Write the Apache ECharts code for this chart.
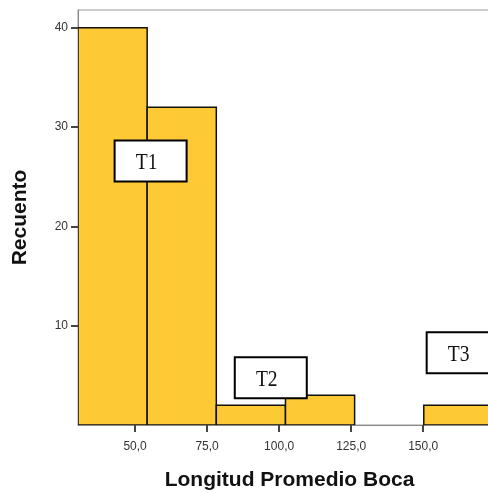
<!DOCTYPE html>
<html>
<head>
<meta charset="utf-8">
<script src="https://cdn.jsdelivr.net/npm/echarts@6/dist/echarts.min.js"></script>
<style>html,body{margin:0;padding:0;background:#fff}#c{width:488px;height:493px}</style>
</head>
<body>
<div id="c"></div>
<script>
// Histogram bins (Longitud Promedio Boca)
const binStarts = [30.2, 54.2, 78.2, 102.2, 126.2, 150.2];
const binEnds   = [54.2, 78.2, 102.2, 126.2, 150.2, 174.2];
const counts    = [40, 32, 2, 3, 0, 2];
const xTicks    = [50, 75, 100, 125, 150];
const yTicks    = [10, 20, 30, 40];
// Annotation boxes (label, x, y in data units)
const noteLabels = ['T1', 'T2', 'T3'];
const noteX      = [55.4, 97.1, 163.7];
const noteY      = [26.6, 4.76, 7.27];

const chart = echarts.init(document.getElementById('c'));
const barData = binStarts.map((s, i) => [s, binEnds[i], counts[i]]);
const noteData = noteLabels.map((l, i) => [noteX[i], noteY[i], l]);

chart.setOption({
  animation: false,
  grid: { left: 78, top: 10, right: -13, bottom: 68, show: true, borderColor: '#999', borderWidth: 1,
          containLabel: false, outerBoundsMode: 'none' },
  xAxis: {
    type: 'value', min: 30.2, max: 177.0,
    name: 'Longitud Promedio Boca', nameLocation: 'middle', nameGap: 45,
    nameTextStyle: { fontFamily: 'Liberation Sans', fontWeight: 'bold', fontSize: 21, color: '#111' },
    axisLine: { show: true, lineStyle: { color: '#888', width: 1 } },
    axisTick: { show: true, length: 7, customValues: xTicks, lineStyle: { color: '#444', width: 2 } },
    axisLabel: { customValues: xTicks, formatter: v => v.toFixed(1).replace('.', ','), fontFamily: 'Liberation Sans', fontSize: 12, color: '#333', margin: 16 },
    splitLine: { show: false }
  },
  yAxis: {
    type: 'value', min: 0, max: 41.8,
    name: 'Recuento', nameLocation: 'middle', nameGap: 47,
    nameTextStyle: { fontFamily: 'Liberation Sans', fontWeight: 'bold', fontSize: 21, color: '#111' },
    axisLine: { show: true, lineStyle: { color: '#888', width: 1 } },
    axisTick: { show: true, length: 7, customValues: yTicks, lineStyle: { color: '#444', width: 2 } },
    axisLabel: { customValues: yTicks, fontFamily: 'Liberation Sans', fontSize: 12, color: '#333', margin: 10 },
    splitLine: { show: false }
  },
  series: [
    {
      type: 'custom', clip: true,
      data: barData,
      renderItem: (params, api) => {
        const h = api.value(2);
        if (!h) return null;
        const p0 = api.coord([api.value(0), 0]);
        const p1 = api.coord([api.value(1), h]);
        return {
          type: 'rect',
          shape: { x: p0[0], y: p1[1], width: p1[0] - p0[0], height: p0[1] - p1[1] },
          style: { fill: '#FDC934', stroke: '#111', lineWidth: 1.5 }
        };
      }
    },
    {
      type: 'custom', clip: true, z: 5,
      data: noteData,
      renderItem: (params, api) => {
        const c = api.coord([api.value(0), api.value(1)]);
        const w = 72, h = 41;
        return {
          type: 'group',
          children: [
            { type: 'rect', shape: { x: c[0] - w / 2, y: c[1] - h / 2, width: w, height: h },
              style: { fill: '#fff', stroke: '#000', lineWidth: 2 } },
            { type: 'text', x: c[0] - 4, y: c[1] + 2, scaleX: 0.85,
              style: { text: noteData[params.dataIndex][2], fill: '#111', font: '23px "Liberation Serif"', align: 'center', verticalAlign: 'middle' } }
          ]
        };
      }
    }
  ]
});
</script>
</body>
</html>
